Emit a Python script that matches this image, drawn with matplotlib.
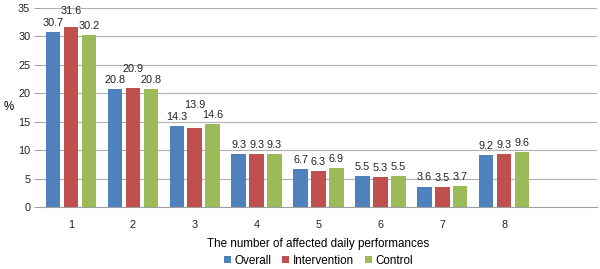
import matplotlib
matplotlib.use("Agg")
import matplotlib.pyplot as plt
import numpy as np

plt.rcParams['font.family'] = ['Liberation Sans', 'DejaVu Sans']

categories = ["1", "2", "3", "4", "5", "6", "7", "8"]
overall = [30.7, 20.8, 14.3, 9.3, 6.7, 5.5, 3.6, 9.2]
intervention = [31.6, 20.9, 13.9, 9.3, 6.3, 5.3, 3.5, 9.3]
control = [30.2, 20.8, 14.6, 9.3, 6.9, 5.5, 3.7, 9.6]
series_names = ["Overall", "Intervention", "Control"]
colors = ["#4F81BD", "#C0504D", "#9BBB59"]
# extra label lift (points) for some labels, as placed in the reference
lift_intervention = [5, 7, 10, 0, 0, 0, 0, 0]

fig = plt.figure(figsize=(6, 2.69), dpi=100)
ax = fig.add_axes([40/600, 1 - 207/269, 557/600, 199/269])

x = np.arange(len(categories))
width = 0.235
step = 0.29
fs = 7.8

for i, (vals, name, c) in enumerate(zip([overall, intervention, control], series_names, colors)):
    pos = x + (i - 1) * step
    ax.bar(pos, vals, width=width, color=c, label=name, zorder=3)
    for j, (p, v) in enumerate(zip(pos, vals)):
        extra = lift_intervention[j] if i == 1 else 0
        ax.annotate(f"{v:.1f}", (p, v), xytext=(0, 3 + extra), textcoords="offset points",
                    ha="center", va="bottom", fontsize=fs, color="#222222")

ax.set_xlim(-0.5, 8.5)
ax.set_ylim(0, 35)
ax.set_yticks(range(0, 36, 5))
ax.set_xticks(x)
ax.set_xticklabels(categories)
ax.yaxis.grid(True, color="#B0B0B0", linewidth=0.8, zorder=0)
ax.set_axisbelow(True)
for s in ["top", "right", "left"]:
    ax.spines[s].set_visible(False)
ax.spines["bottom"].set_color("#A0A0A0")
ax.tick_params(axis="y", length=4, color="#A0A0A0", labelsize=fs, pad=3)
for t in ax.get_yticklabels():
    t.set_color("#222222")
ax.tick_params(axis="x", length=0, labelsize=fs, pad=9)
for t in ax.get_xticklabels():
    t.set_color("#222222")

ax.set_ylabel("%", rotation=0, fontsize=fs + 0.5, va="center", ha="center")
ax.yaxis.set_label_coords(-0.056, 0.5)
ax.set_xlabel("The number of affected daily performances", fontsize=fs + 0.6, labelpad=6)

leg = ax.legend(loc="center", bbox_to_anchor=(0.5, -0.27), ncol=3, frameon=False,
                fontsize=fs + 0.6, handlelength=0.6, handleheight=0.6, handletextpad=0.3,
                columnspacing=0.9, borderpad=0)

fig.savefig("out.png", dpi=100)
